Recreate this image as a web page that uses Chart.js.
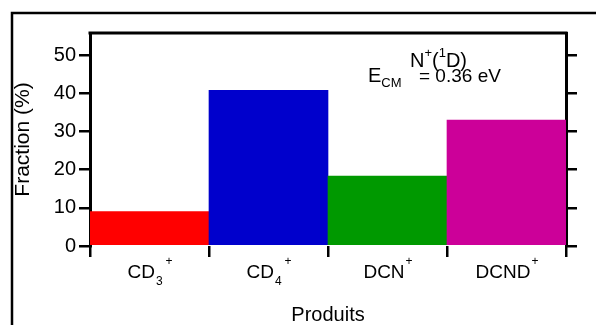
<!DOCTYPE html>
<html>
<head>
<meta charset="utf-8">
<script src="https://cdn.jsdelivr.net/npm/chart.js@4/dist/chart.umd.min.js"></script>
<style>
  body { margin: 0; background: #fff; }
  #wrap { width: 596px; height: 325px; }
</style>
</head>
<body>
<div id="wrap"><canvas id="chart" width="596" height="325"></canvas></div>
<script>
// categories: base text, subscript, superscript
const labelBase = ['CD', 'CD', 'DCN', 'DCND'];
const labelSub = ['3', '4', '', ''];
const labelSup = ['+', '+', '+', '+'];
const fractions = [9.0, 40.8, 18.3, 33.0];
const barColors = ['#ff0000', '#0000cc', '#009900', '#cc0099'];
const yTicks = [0, 10, 20, 30, 40, 50];

const FONT = '"Liberation Sans", Arial, sans-serif';

// draws the outer frame, the plot top edge, category labels and the annotation
const extras = {
  id: 'extras',
  afterDraw(chart) {
    const ctx = chart.ctx;
    const area = chart.chartArea;
    const xs = chart.scales.x;
    ctx.save();
    ctx.strokeStyle = '#000';

    // outer frame (top + left)
    ctx.lineWidth = 2.5;
    ctx.beginPath();
    ctx.moveTo(596, 13);
    ctx.lineTo(12, 13);
    ctx.lineTo(12, 325);
    ctx.stroke();

    // top edge of plot box
    ctx.lineWidth = 3;
    ctx.beginPath();
    ctx.moveTo(area.left - 1.5, area.top);
    ctx.lineTo(area.right + 1.5, area.top);
    ctx.stroke();

    // category labels with sub/superscripts
    ctx.fillStyle = '#000';
    ctx.textBaseline = 'alphabetic';
    ctx.textAlign = 'left';
    const big = '19px ' + FONT, small = '12px ' + FONT;
    labelBase.forEach((b, i) => {
      ctx.font = big;
      const wb = ctx.measureText(b).width;
      ctx.font = small;
      const ws = labelSub[i] ? ctx.measureText(labelSub[i]).width + 3 : 0;
      const wp = ctx.measureText(labelSup[i]).width;
      const cx = xs.getPixelForValue(i);
      let x = cx - (wb + ws + wp) / 2;
      const base = area.bottom + 32;
      ctx.font = big;
      ctx.fillText(b, x, base);
      x += wb;
      ctx.font = small;
      if (labelSub[i]) {
        ctx.fillText(labelSub[i], x + 1, base + 7);
        x += ws;
      }
      ctx.fillText(labelSup[i], x + 1, base - 13);
    });

    // annotation N+(1D), E_CM = 0.36 eV
    const big2 = '20px ' + FONT, small2 = '13px ' + FONT;
    let x = area.left + 320;
    let y = area.top + 34;
    const parts = [['N', big2, 0], ['+', small2, -10], ['(', big2, 0], ['1', small2, -10], ['D)', big2, 0]];
    parts.forEach(p => {
      ctx.font = p[1];
      ctx.fillText(p[0], x, y + p[2]);
      x += ctx.measureText(p[0]).width;
    });
    x = area.left + 278;
    y = area.top + 49;
    ctx.font = big2;
    ctx.fillText('E', x, y);
    x += ctx.measureText('E').width;
    ctx.font = small2;
    ctx.fillText('CM', x, y + 5);
    ctx.font = '19px ' + FONT;
    ctx.fillText('= 0.36 eV', area.left + 329, y);
    ctx.restore();
  }
};

const chart = new Chart(document.getElementById('chart'), {
  type: 'bar',
  data: {
    labels: labelBase.map((b, i) => b + labelSub[i] + labelSup[i]),
    datasets: [{
      data: fractions,
      backgroundColor: barColors,
      borderWidth: 0,
      barPercentage: 1,
      categoryPercentage: 1
    }]
  },
  options: {
    responsive: false,
    animation: false,
    layout: { padding: { top: 33, left: 0, right: 0, bottom: 0 } },
    plugins: { legend: { display: false }, tooltip: { enabled: false } },
    scales: {
      x: {
        grid: { offset: true, drawOnChartArea: false, color: '#000', lineWidth: 2.5, tickLength: 11 },
        border: { display: false },
        ticks: { display: false },
        title: { display: true, text: 'Produits', color: '#000', font: { family: FONT, size: 20, lineHeight: 1 }, padding: { top: 0, bottom: 0 } },
        afterFit(s) { s.height = 79; }
      },
      y: {
        min: 0,
        max: 55.8,
        grid: { drawOnChartArea: false, color: '#000', lineWidth: 2.5, tickLength: 11 },
        border: { display: true, color: '#000', width: 3 },
        ticks: {
          stepSize: 10,
          includeBounds: false,
          color: '#000',
          padding: 3,
          font: { family: FONT, size: 20 },
          callback: v => yTicks.includes(v) ? String(v) : ''
        },
        title: { display: true, text: 'Fraction (%)', color: '#000', font: { family: FONT, size: 21, lineHeight: 1 }, padding: { top: 13, bottom: 0 } },
        afterFit(s) { s.width = 90; }
      },
      y2: {
        position: 'right',
        min: 0,
        max: 55.8,
        grid: { drawOnChartArea: false, color: '#000', lineWidth: 2.5, tickLength: 11 },
        border: { display: true, color: '#000', width: 3 },
        ticks: { stepSize: 10, includeBounds: false, display: false },
        afterFit(s) { s.width = 30; }
      }
    }
  },
  plugins: [extras]
});
</script>
</body>
</html>
